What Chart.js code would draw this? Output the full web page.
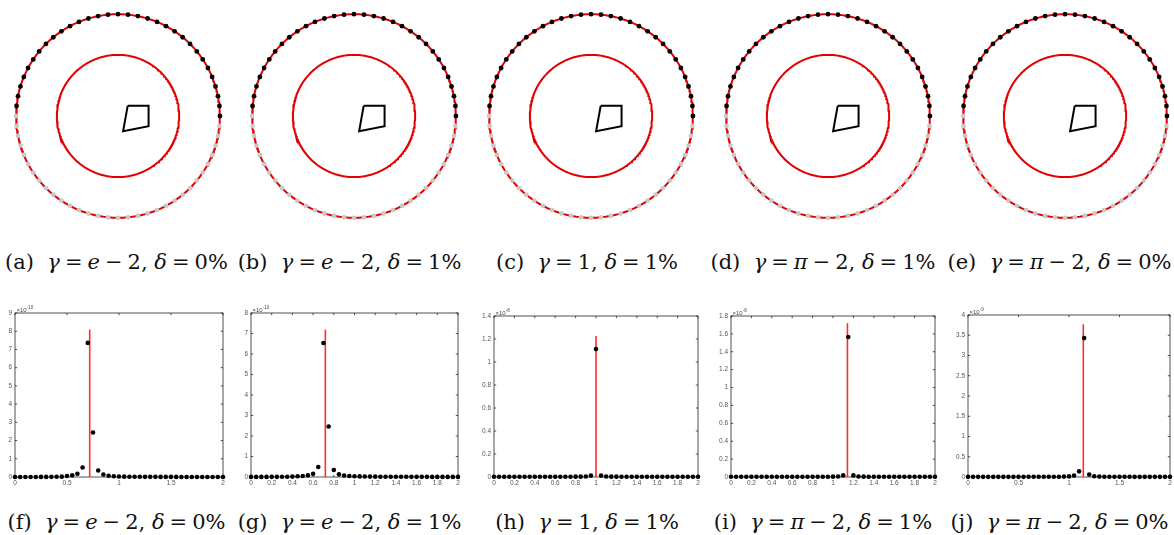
<!DOCTYPE html>
<html>
<head>
<meta charset="utf-8">
<script src="https://cdn.jsdelivr.net/npm/chart.js@4.4.1/dist/chart.umd.min.js"></script>
<style>
  html, body { margin: 0; padding: 0; background: #fff; }
  #wrap { position: relative; width: 1174px; height: 535px; overflow: hidden; background: #fff; }
  canvas { position: absolute; }
  .cap { position: absolute; width: 260px; text-align: center; white-space: nowrap;
         font-family: "DejaVu Serif", serif; font-size: 21px; line-height: 24px; color: #111; }
  .cap i { font-style: italic; }
  .cap .op { margin: 0 5px; }
</style>
</head>
<body>
<div id="wrap"></div>
<script>
// ---------------- DATA ----------------
// Top row geometry (same in every panel)
const outerRadius = 1.0;
const innerRadius = 0.6;
const sensorCount = 64;          // sensors evenly spaced on the outer circle
const measuredCount = 32;        // first half (upper arc) are measured (black)
const quadX = [0.095, 0.30, 0.30, 0.05];
const quadY = [0.10, 0.10, -0.10, -0.15];

// Top-row captions
const topLabels = ["(a)", "(b)", "(c)", "(d)", "(e)"];
const topGamma  = ["<i>e</i><span class='op'>−</span>2", "<i>e</i><span class='op'>−</span>2", "1", "<i>π</i><span class='op'>−</span>2", "<i>π</i><span class='op'>−</span>2"];
const topDelta  = ["0%", "1%", "1%", "1%", "0%"];
// Bottom-row captions
const botLabels = ["(f)", "(g)", "(h)", "(i)", "(j)"];
const botGamma  = topGamma;
const botDelta  = topDelta;

// Bottom row: sample positions
const sampleX = [0,0.05,0.1,0.15,0.2,0.25,0.3,0.35,0.4,0.45,0.5,0.55,0.6,0.65,0.7,0.75,0.8,0.85,0.9,0.95,
                 1,1.05,1.1,1.15,1.2,1.25,1.3,1.35,1.4,1.45,1.5,1.55,1.6,1.65,1.7,1.75,1.8,1.85,1.9,1.95,2];
// values in units of the axis exponent
const valuesF = [0.003,0.003,0.003,0.004,0.004,0.005,0.006,0.008,0.012,0.02,0.055,0.09,0.18,0.52,7.36,2.44,0.36,0.14,0.07,0.04,
                 0.03,0.02,0.015,0.012,0.01,0.009,0.008,0.007,0.006,0.006,0.005,0.005,0.004,0.004,0.004,0.003,0.003,0.003,0.003,0.003,0.003];
const valuesG = [0.004,0.004,0.005,0.006,0.007,0.008,0.01,0.013,0.02,0.035,0.05,0.08,0.16,0.49,6.54,2.46,0.34,0.13,0.07,0.05,
                 0.04,0.03,0.025,0.02,0.017,0.015,0.013,0.012,0.011,0.01,0.009,0.008,0.008,0.007,0.007,0.006,0.006,0.006,0.005,0.005,0.005];
const valuesH = [0.002,0.002,0.002,0.002,0.002,0.002,0.002,0.002,0.002,0.002,0.002,0.002,0.002,0.002,0.002,0.002,0.003,0.003,0.004,0.012,
                 1.112,0.012,0.004,0.003,0.003,0.002,0.002,0.002,0.002,0.002,0.002,0.002,0.002,0.002,0.002,0.002,0.002,0.002,0.002,0.002,0.002];
const valuesI = [0.002,0.002,0.002,0.002,0.002,0.002,0.002,0.002,0.002,0.002,0.002,0.002,0.002,0.002,0.002,0.002,0.002,0.002,0.003,0.003,
                 0.004,0.005,0.018,1.566,0.018,0.005,0.004,0.003,0.003,0.002,0.002,0.002,0.002,0.002,0.002,0.002,0.002,0.002,0.002,0.002,0.002];
const valuesJ = [0.004,0.004,0.004,0.004,0.004,0.004,0.004,0.004,0.004,0.004,0.004,0.004,0.005,0.005,0.005,0.006,0.006,0.007,0.008,0.01,
                 0.015,0.035,0.14,3.43,0.06,0.02,0.01,0.008,0.007,0.006,0.005,0.005,0.005,0.004,0.004,0.004,0.004,0.004,0.004,0.004,0.004];
const bottomValues = [valuesF, valuesG, valuesH, valuesI, valuesJ];
// true source location (red stem) and its height
const peakPositions = [0.71828, 0.71828, 1.0, 1.14159, 1.14159];
const peakHeights   = [8.09, 7.19, 1.227, 1.72, 3.77];
// axes
const yAxisMax  = [9, 8, 1.4, 1.8, 4];
const yAxisStep = [1, 1, 0.2, 0.2, 0.5];
const xAxisStep = [0.5, 0.2, 0.2, 0.2, 0.5];
const exponents = ["-10", "-10", "-8", "-8", "-9"];

// ---------------- LAYOUT ----------------
const wrap = document.getElementById('wrap');
const topCenters = [118, 354, 591, 828, 1065];
const topCY = 116, pxPerUnit = 105.5, topW = 236, topH = 232;
const capCentersTop = [116.5, 349.5, 587, 823, 1059.5];
// bottom plot areas [left, top, right, bottom]
const botAreas = [[15, 313, 223, 477], [251, 313, 458, 477], [494, 316, 698, 477], [731, 316, 935, 477], [968, 315, 1172, 477]];
const botCanvasLeft = [0, 236, 470, 705, 940];

function mkCanvas(l, t, w, h) {
  const c = document.createElement('canvas');
  c.width = w; c.height = h;
  c.style.left = l + 'px'; c.style.top = t + 'px';
  c.style.width = w + 'px'; c.style.height = h + 'px';
  wrap.appendChild(c);
  return c;
}
function mkCap(center, top, label, g, d) {
  const div = document.createElement('div');
  div.className = 'cap';
  div.style.left = (center - 130) + 'px';
  div.style.top = top + 'px';
  div.innerHTML = label + '&nbsp; <i>γ</i><span class="op">=</span>' + g + ', <i>δ</i><span class="op">=</span>' + d;
  wrap.appendChild(div);
}

function circlePts(r, n) {
  const a = [];
  for (let i = 0; i <= n; i++) { const t = 2 * Math.PI * i / n; a.push({x: r * Math.cos(t), y: r * Math.sin(t)}); }
  return a;
}
function sensorPts(from, to) {
  const a = [];
  for (let i = from; i < to; i++) { const t = 2 * Math.PI * i / sensorCount; a.push({x: outerRadius * Math.cos(t), y: outerRadius * Math.sin(t)}); }
  return a;
}

// ---------------- TOP ROW ----------------
topCenters.forEach((cx, k) => {
  const c = mkCanvas(cx - topW / 2, 0, topW, topH);
  const quad = quadX.map((x, i) => ({x: x, y: quadY[i]}));
  quad.push({x: quadX[0], y: quadY[0]});
  new Chart(c, {
    type: 'scatter',
    data: { datasets: [
      { data: circlePts(outerRadius, 360), showLine: true, borderColor: 'rgb(226,0,0)', borderWidth: 2, pointRadius: 0, order: 5, clip: false },
      { data: sensorPts(measuredCount, sensorCount), pointRadius: 2.4, backgroundColor: 'rgb(200,200,200)', borderWidth: 0, order: 4, clip: false },
      { data: sensorPts(0, measuredCount), pointRadius: 2.4, backgroundColor: '#000', borderWidth: 0, order: 3, clip: false },
      { data: circlePts(innerRadius, 360), showLine: true, borderColor: 'rgb(226,0,0)', borderWidth: 2, pointRadius: 0, order: 2, clip: false },
      { data: quad, showLine: true, borderColor: '#000', borderWidth: 2, pointRadius: 0, order: 1, clip: false }
    ]},
    options: {
      responsive: false, animation: false, devicePixelRatio: 1,
      layout: { padding: 0 },
      plugins: { legend: { display: false }, tooltip: { enabled: false } },
      scales: {
        x: { type: 'linear', display: false, min: -(topW / 2) / pxPerUnit, max: (topW / 2) / pxPerUnit },
        y: { type: 'linear', display: false, min: -(topH - topCY) / pxPerUnit, max: topCY / pxPerUnit }
      }
    }
  });
  mkCap(capCentersTop[k], 250, topLabels[k], topGamma[k], topDelta[k]);
});

// ---------------- BOTTOM ROW ----------------
const axesBox = {
  id: 'axesBox',
  beforeDatasetsDraw(chart, args, o) {
    const ctx = chart.ctx, a = chart.chartArea, xs = chart.scales.x, ys = chart.scales.y;
    ctx.save();
    ctx.strokeStyle = '#262626'; ctx.lineWidth = 0.8;
    ctx.strokeRect(a.left, a.top, a.right - a.left, a.bottom - a.top);
    ctx.beginPath();
    const tl = 2.2;
    xs.ticks.forEach(t => { const p = xs.getPixelForValue(t.value);
      ctx.moveTo(p, a.bottom); ctx.lineTo(p, a.bottom - tl); ctx.moveTo(p, a.top); ctx.lineTo(p, a.top + tl); });
    ys.ticks.forEach(t => { const p = ys.getPixelForValue(t.value);
      ctx.moveTo(a.left, p); ctx.lineTo(a.left + tl, p); ctx.moveTo(a.right, p); ctx.lineTo(a.right - tl, p); });
    ctx.stroke();
    ctx.fillStyle = '#444';
    ctx.textAlign = 'left'; ctx.textBaseline = 'alphabetic';
    ctx.font = '6px "Liberation Sans", Arial, sans-serif';
    ctx.fillText('×10', a.left + 1.5, a.top - 1.5);
    const w = ctx.measureText('×10').width;
    ctx.font = '4.5px "Liberation Sans", Arial, sans-serif';
    ctx.fillText(o.exp, a.left + 1.5 + w, a.top - 4.5);
    ctx.restore();
  }
};
const fmt = v => String(parseFloat(Number(v).toFixed(2)));

bottomValues.forEach((vals, k) => {
  const [al, at, ar, ab] = botAreas[k];
  const cl = botCanvasLeft[k];
  const cw = Math.min(ar + 4, 1174) - cl;
  const ch = 190, ct = 300;
  const yW = al - cl, padTop = at - ct, xH = ct + ch - ab, padRight = cl + cw - ar;
  const c = mkCanvas(cl, ct, cw, ch);
  const tickFont = { size: 6.5, family: '"Liberation Sans", Arial, sans-serif' };
  new Chart(c, {
    type: 'scatter',
    data: { datasets: [
      { data: sampleX.map((x, i) => ({x: x, y: vals[i]})), pointRadius: 2.3, backgroundColor: '#000', borderWidth: 0, order: 1, clip: false },
      { data: [{x: peakPositions[k], y: 0}, {x: peakPositions[k], y: peakHeights[k]}], showLine: true,
        borderColor: 'rgb(255,45,45)', borderWidth: 1.6, pointRadius: 0, order: 2, clip: false }
    ]},
    options: {
      responsive: false, animation: false, devicePixelRatio: 1,
      layout: { padding: { top: padTop, right: padRight, left: 0, bottom: 0 } },
      plugins: { legend: { display: false }, tooltip: { enabled: false }, axesBox: { exp: exponents[k] } },
      scales: {
        x: { type: 'linear', min: 0, max: 2,
             ticks: { stepSize: xAxisStep[k], font: tickFont, color: '#555', padding: 2, maxRotation: 0, autoSkip: false, callback: fmt },
             grid: { display: false, drawTicks: false }, border: { display: false },
             afterFit: s => { s.height = xH; } },
        y: { type: 'linear', min: 0, max: yAxisMax[k],
             ticks: { stepSize: yAxisStep[k], font: tickFont, color: '#555', padding: 3, autoSkip: false, callback: fmt },
             grid: { display: false, drawTicks: false }, border: { display: false },
             afterFit: s => { s.width = yW; } }
      }
    },
    plugins: [axesBox]
  });
  mkCap(capCentersTop[k], 510, botLabels[k], botGamma[k], botDelta[k]);
});
</script>
</body>
</html>
